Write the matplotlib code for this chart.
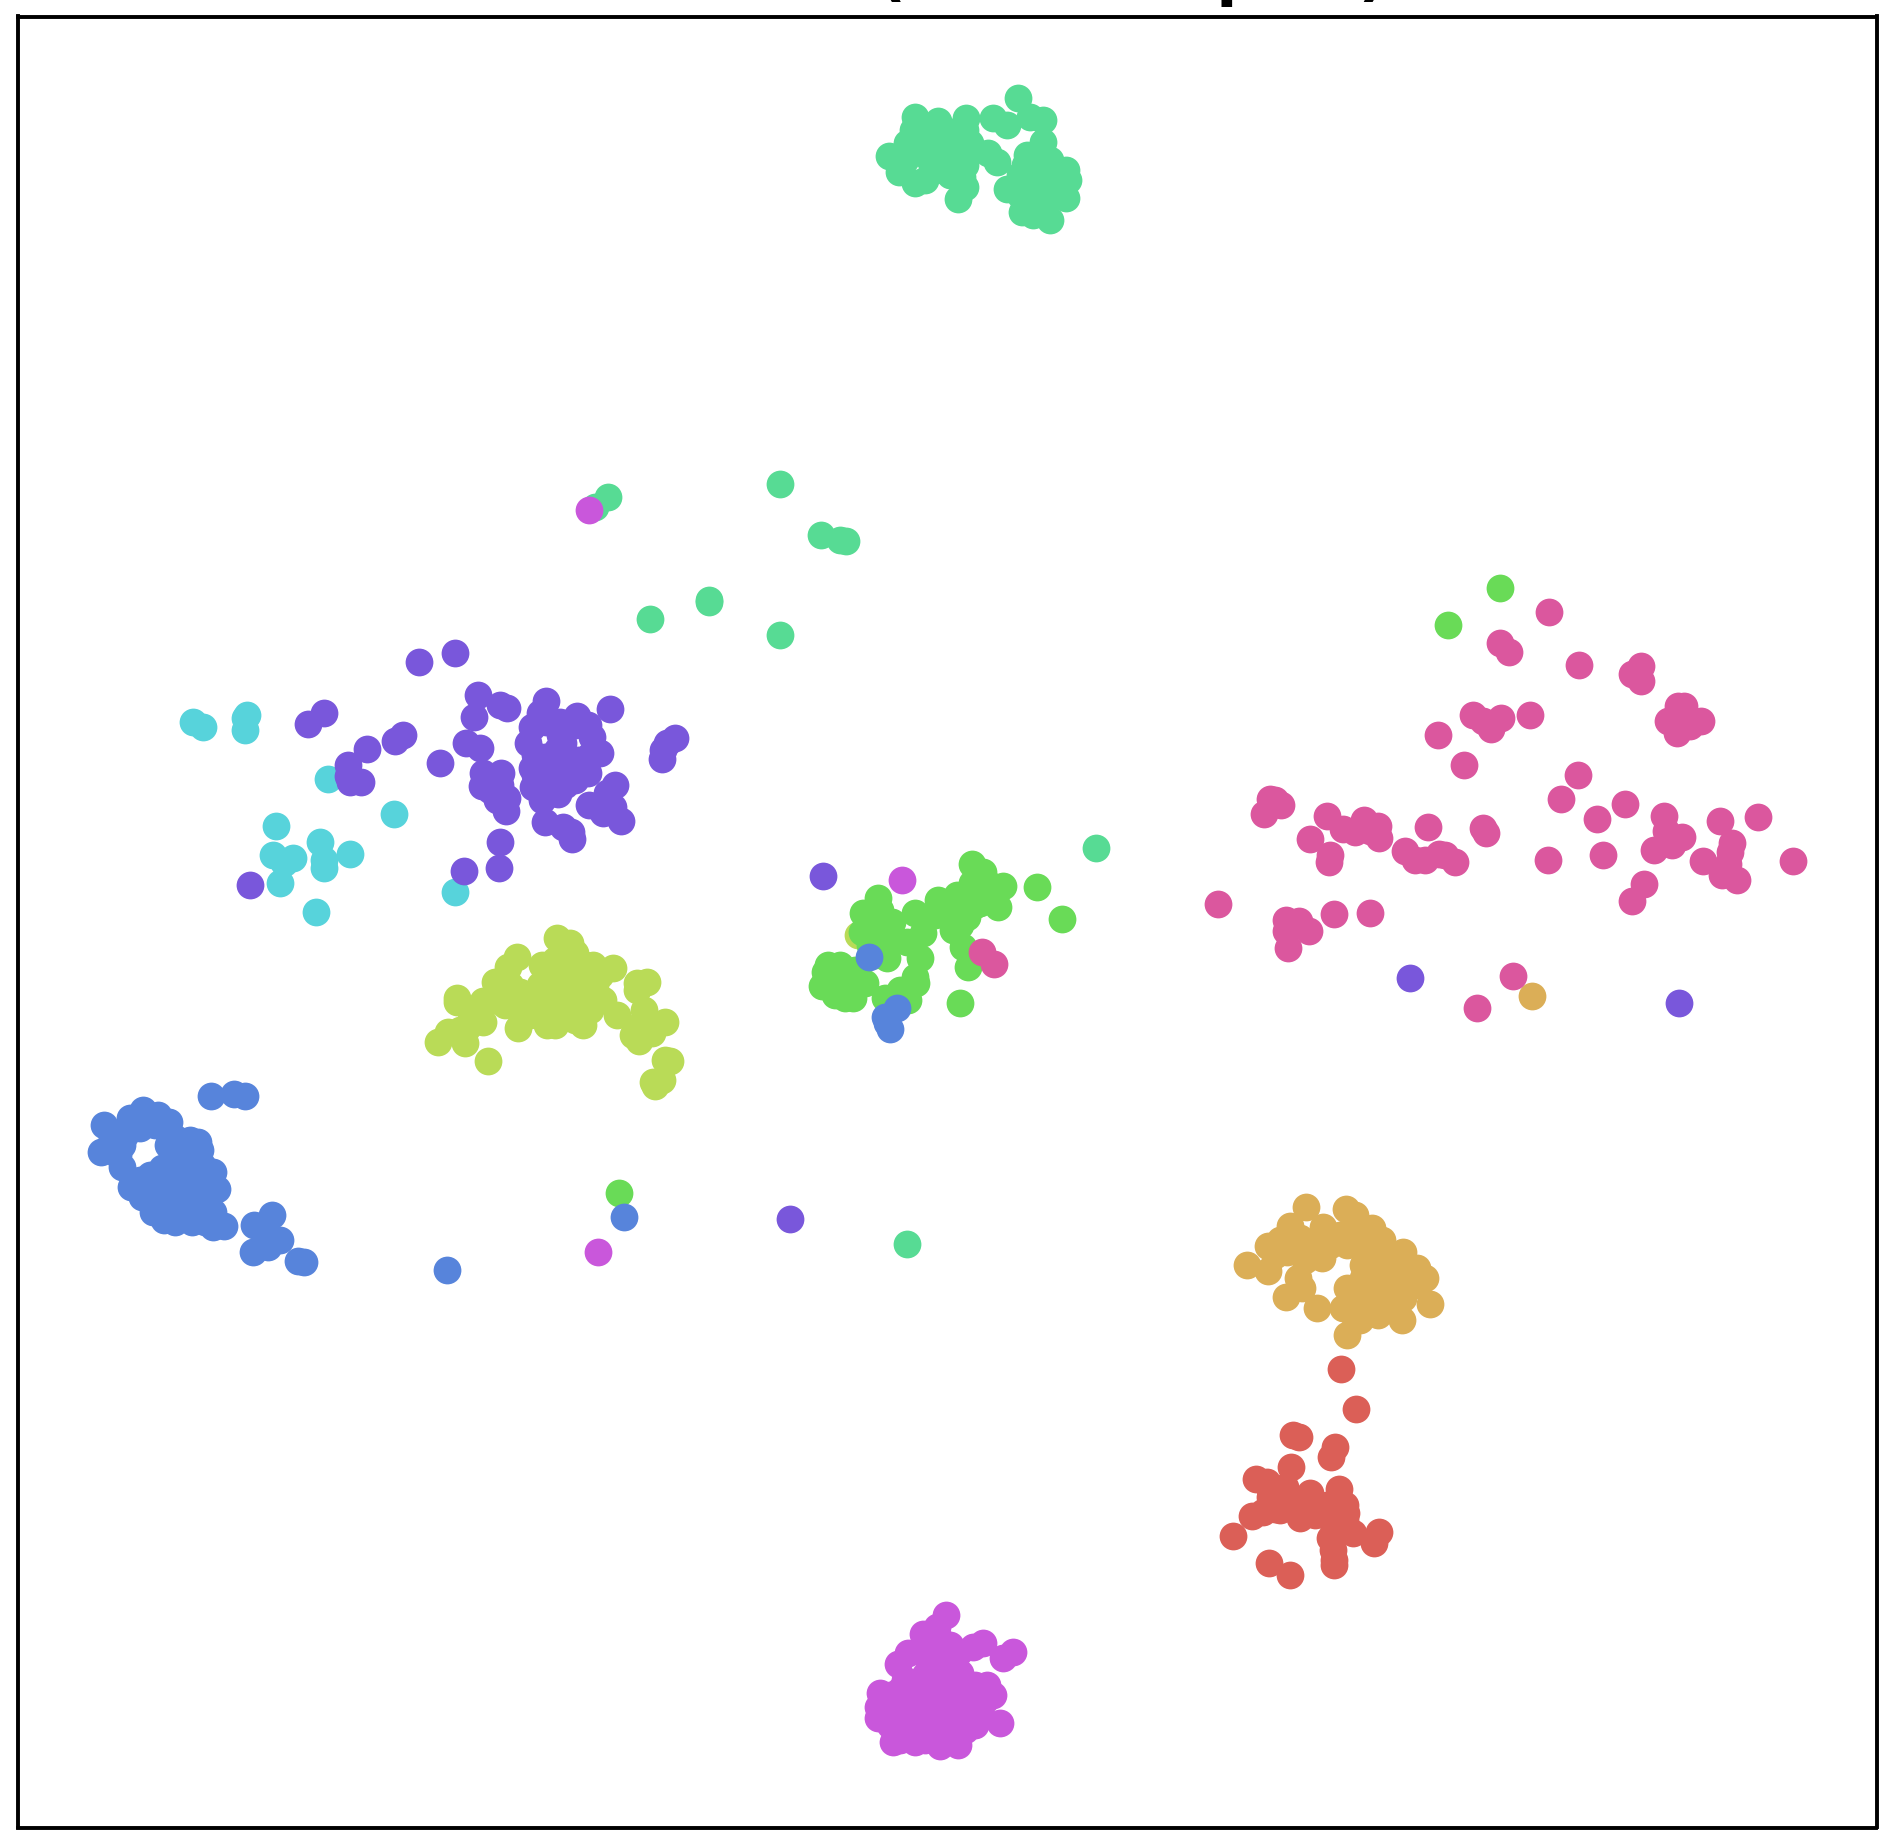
import matplotlib
matplotlib.use("Agg")
import matplotlib.pyplot as plt

title = "t-SNE Plot (Test Samples)"

# class colours, husl-like palette
colors = ["#db5f57", "#dbae57", "#b9db57", "#69db57", "#57db94",
          "#57d3db", "#5784db", "#7957db", "#c957db", "#db579e"]

# --- embedding points, one list per class ---
red = [(1341,1369),(1356,1409),(1293,1435),(1299,1437),(1335,1447),(1331,1457),(1291,1467),(1256,1479),
       (1267,1482),(1252,1516),(1263,1512),(1275,1509),(1270,1497),(1285,1487),(1310,1493),(1300,1518),
       (1307,1507),(1339,1489),(1345,1505),(1346,1513),(1327,1505),(1353,1533),(1379,1532),(1374,1543),
       (1330,1538),(1333,1550),(1334,1565),(1334,1560),(1233,1536),(1269,1563),(1290,1575),(1333,1523),
       (1287,1500),(1280,1495),(1315,1505),(1315,1515),(1325,1515),(1340,1525),(1345,1520),(1280,1510),
       (1270,1490),(1300,1500)]
gold = [(1306,1207),(1346,1209),(1355,1215),(1290,1226),(1323,1227),(1372,1228),(1382,1240),(1268,1246),
        (1247,1265),(1268,1271),(1287,1252),(1322,1258),(1298,1278),(1302,1288),(1286,1297),(1317,1308),
        (1347,1288),(1403,1252),(1417,1268),(1425,1278),(1430,1304),(1402,1320),(1378,1315),(1347,1335),
        (1355,1318),(1343,1308),(1300,1238),(1347,1245),(1363,1248),(1373,1268),(1397,1285),(1370,1295),
        (1383,1278),(1403,1298),(1330,1245),(1310,1245),(1360,1228),(1363,1278),(1532,996),(1380,1260),
        (1390,1270),(1395,1260),(1385,1290),(1395,1305),(1385,1305),(1365,1305),(1360,1295),(1410,1275),
        (1405,1265),(1415,1285),(1360,1235),(1340,1235),(1320,1240),(1295,1250),(1305,1260),(1280,1240),
        (1275,1255),(1370,1250),(1360,1320),(1375,1300),(1363,1265)]
olive = [(438,1042),(448,1032),(457,998),(457,1002),(465,1043),(467,1028),(483,1022),(483,1001),(488,1061),
         (495,982),(508,967),(517,957),(518,1028),(520,992),(547,1025),(542,965),(557,938),(570,943),(575,953),
         (593,965),(613,968),(560,975),(563,998),(583,982),(583,1025),(563,1015),(603,1000),(617,1015),(637,983),
         (647,982),(637,990),(644,1010),(665,1022),(652,1033),(633,1035),(639,1041),(665,1060),(670,1061),
         (662,1080),(653,1082),(655,1086),(537,992),(520,1008),(858,935),(540,985),(555,960),(575,975),(555,990),
         (545,1005),(565,985),(580,1000),(570,1010),(590,1010),(530,1015),(510,985),(505,1005),(495,1000),
         (530,1000),(470,1010),(460,1030),(585,965),(595,985),(600,975),(575,1020),(555,1025),(650,1025),
         (640,1025),(645,1020),(477,1012)]
green = [(972,864),(983,872),(1003,886),(998,907),(1037,887),(1062,919),(972,883),(957,895),(938,900),(980,903),
         (967,917),(953,930),(963,947),(968,967),(960,1003),(878,898),(863,913),(915,913),(862,932),(892,922),
         (877,923),(923,933),(907,942),(887,958),(920,958),(883,943),(915,977),(916,983),(828,965),(825,972),
         (822,986),(845,973),(865,983),(845,998),(853,998),(837,983),(885,998),(908,1000),(897,997),(943,907),
         (1500,588),(1448,625),(619,1193),(840,965),(835,975),(850,985),(835,995),(855,970),(870,930),(880,910),
         (870,945),(890,935),(875,955),(955,910),(970,900),(985,890),(990,885),(975,905),(945,915),(960,925),
         (935,915),(925,920),(900,990)]
teal = [(889,156),(915,117),(938,121),(966,118),(993,118),(1018,98),(1043,120),(1043,142),(1027,155),(1050,160),
        (1066,170),(1068,180),(1066,198),(1050,220),(1033,215),(1022,212),(1007,189),(988,153),(997,162),(958,199),
        (965,187),(962,177),(925,180),(915,183),(899,172),(907,143),(913,130),(940,143),(970,143),(1007,125),
        (1030,117),(1037,187),(1037,200),(1030,170),(1047,187),(930,160),(953,160),(900,157),(608,497),(780,484),
        (821,535),(840,540),(846,541),(709,600),(709,602),(650,619),(780,635),(1096,848),(907,1244),(595,507),
        (925,135),(945,130),(950,150),(920,150),(905,160),(935,170),(950,175),(960,150),(1020,175),(1025,195),
        (1045,205),(1055,175),(1045,165),(1060,190),(1020,195),(1035,205),(1025,165),(965,130),(960,135),
        (955,165),(945,165),(965,165)]
cyan = [(193,722),(203,727),(247,715),(245,718),(245,730),(328,779),(394,814),(276,826),(320,842),(350,854),
        (273,855),(293,858),(284,863),(324,860),(324,868),(280,883),(316,912),(455,892)]
blue = [(211,1096),(234,1094),(245,1096),(104,1125),(101,1152),(130,1118),(143,1110),(158,1115),(169,1122),
        (122,1145),(122,1167),(131,1187),(142,1197),(153,1212),(164,1220),(192,1222),(213,1227),(224,1226),
        (198,1142),(213,1172),(217,1189),(213,1212),(168,1145),(162,1168),(185,1155),(202,1165),(185,1175),
        (168,1188),(185,1198),(152,1188),(198,1192),(172,1208),(198,1212),(175,1138),(272,1215),(254,1225),
        (280,1240),(268,1247),(253,1252),(265,1232),(298,1261),(304,1262),(447,1270),(624,1217),(869,957),
        (897,1008),(885,1017),(887,1023),(890,1029),(175,1165),(190,1140),(180,1150),(205,1180),(170,1180),
        (160,1205),(175,1195),(190,1210),(205,1205),(175,1222),(205,1222),(150,1175),(140,1180),(150,1200),
        (125,1135),(140,1128),(155,1125),(115,1135),(110,1145),(118,1155),(190,1185),(200,1150)]
purple = [(419,662),(455,653),(478,695),(474,717),(500,705),(507,708),(466,743),(480,748),(440,763),(483,773),
          (501,773),(482,786),(507,798),(497,800),(506,811),(500,842),(499,868),(464,871),(546,701),(540,713),
          (577,716),(588,725),(532,727),(528,743),(560,722),(592,737),(600,753),(532,768),(588,773),(533,787),
          (558,794),(542,800),(557,750),(550,773),(570,773),(557,760),(563,743),(545,822),(563,827),(571,832),
          (572,839),(610,709),(675,738),(667,743),(663,750),(662,759),(589,805),(603,813),(615,785),(607,793),
          (613,807),(621,821),(324,713),(308,724),(403,735),(395,741),(367,749),(348,765),(350,782),(361,782),
          (348,776),(250,885),(823,876),(790,1219),(1410,978),(1679,1003),(560,735),(546,722),(545,757),(535,755),
          (590,755),(575,725),(578,760),(545,775),(565,785),(575,780),(555,785),(545,760),(535,775),(490,790),
          (500,785)]
magenta = [(946,1615),(937,1627),(923,1634),(908,1653),(898,1664),(959,1652),(973,1647),(983,1643),(1003,1658),
           (1013,1652),(987,1685),(993,1695),(1000,1723),(880,1693),(878,1707),(878,1718),(893,1742),(915,1742),
           (940,1746),(958,1745),(963,1723),(900,1690),(927,1657),(947,1657),(960,1673),(933,1690),(950,1703),
           (917,1707),(893,1710),(973,1700),(930,1723),(903,1727),(950,1730),(980,1713),(917,1730),(930,1640),
           (589,510),(902,880),(598,1252),(925,1675),(940,1670),(945,1680),(960,1690),(975,1685),(975,1715),
           (960,1710),(965,1700),(940,1700),(920,1695),(905,1700),(890,1695),(890,1725),(905,1712),(925,1715),
           (940,1720),(935,1735),(950,1715),(915,1720),(885,1705),(900,1740),(925,1740),(945,1740),(965,1730),
           (975,1725),(985,1700),(905,1680),(920,1650),(940,1640),(930,1650),(950,1645)]
pink = [(1549,612),(1500,643),(1509,652),(1579,665),(1641,666),(1632,674),(1641,681),(1678,706),(1684,706),
        (1668,721),(1690,726),(1701,721),(1677,733),(1473,715),(1483,721),(1491,729),(1501,718),(1530,715),
        (1438,735),(1464,765),(1578,775),(1561,799),(1597,819),(1625,804),(1664,816),(1666,831),(1682,837),
        (1654,850),(1672,845),(1720,821),(1758,817),(1793,861),(1732,843),(1730,852),(1703,861),(1728,864),
        (1722,875),(1737,880),(1644,884),(1632,901),(1603,855),(1548,860),(1483,828),(1486,833),(1428,827),
        (1405,851),(1415,860),(1425,860),(1439,854),(1445,855),(1455,862),(1378,826),(1364,820),(1343,829),
        (1355,832),(1370,831),(1379,838),(1327,816),(1310,839),(1330,855),(1329,862),(1270,799),(1281,805),
        (1264,814),(1275,800),(1218,904),(1286,920),(1299,921),(1286,931),(1309,931),(1288,948),(1334,914),
        (1370,913),(1513,976),(1477,1008),(982,952),(994,964)]

classes = [red, gold, olive, green, teal, cyan, blue, purple, magenta, pink]

W, H = 1893, 1841
fig = plt.figure(figsize=(W / 100, H / 100), dpi=100)
ax = fig.add_axes([17.5 / W, 1 - 1827.5 / H, (1876.5 - 17.5) / W, (1827.5 - 16.5) / H])

for pts, c in zip(classes, colors):
    ax.scatter([p[0] for p in pts], [p[1] for p in pts], s=400, color=c, linewidths=0)

ax.set_xlim(17.5, 1876.5)
ax.set_ylim(1827.5, 16.5)
ax.set_xticks([])
ax.set_yticks([])
for sp in ax.spines.values():
    sp.set_linewidth(2.8)

# title sits mostly off the top edge, like the original crop
ax.set_title(title, fontsize=44, fontweight="bold", pad=16.5)

fig.savefig("out.png", dpi=100)
